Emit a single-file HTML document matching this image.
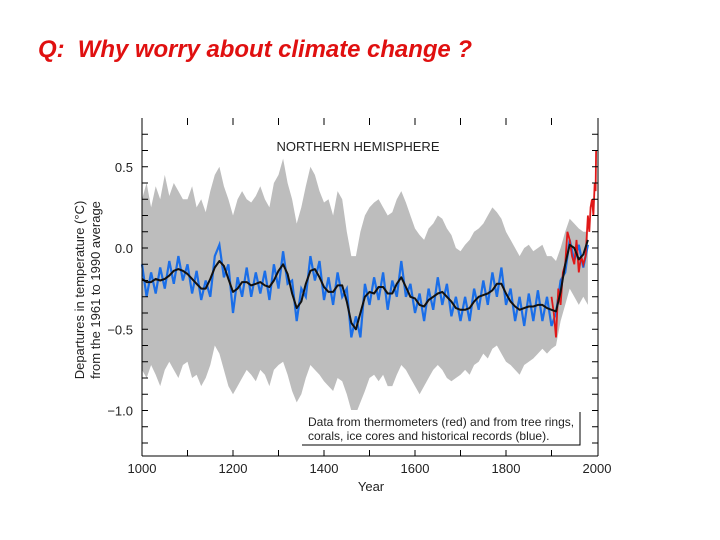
<!DOCTYPE html>
<html><head><meta charset="utf-8"><style>
html,body{margin:0;padding:0;background:#fff;}
svg{display:block;font-family:"Liberation Sans",Arial,sans-serif;}
</style></head><body>
<svg id="chart" width="720" height="540" viewBox="0 0 720 540">
<text x="38" y="57" font-size="24" font-style="italic" font-weight="bold" fill="#e01010" xml:space="preserve" style="white-space:pre" textLength="434" lengthAdjust="spacing">Q:  Why worry about climate change ?</text>
<g id="plot"></g>
</svg>
<script>
const startYear = 1000, stepYears = 10;
const smoothSeries = [-0.19,-0.21,-0.21,-0.19,-0.20,-0.19,-0.17,-0.14,-0.13,-0.14,
-0.16,-0.19,-0.22,-0.25,-0.25,-0.19,-0.12,-0.08,-0.11,-0.19,
-0.27,-0.25,-0.21,-0.21,-0.23,-0.22,-0.21,-0.23,-0.24,-0.20,
-0.14,-0.10,-0.16,-0.28,-0.37,-0.33,-0.22,-0.14,-0.13,-0.18,
-0.24,-0.27,-0.27,-0.23,-0.23,-0.33,-0.46,-0.50,-0.40,-0.30,
-0.27,-0.28,-0.24,-0.24,-0.28,-0.28,-0.22,-0.18,-0.24,-0.30,
-0.31,-0.35,-0.36,-0.32,-0.30,-0.28,-0.27,-0.30,-0.33,-0.37,
-0.38,-0.38,-0.37,-0.33,-0.30,-0.29,-0.28,-0.26,-0.22,-0.22,
-0.28,-0.33,-0.36,-0.38,-0.37,-0.36,-0.36,-0.35,-0.35,-0.37,
-0.38,-0.39,-0.27,-0.10,0.02,0.00,-0.07,-0.04,0.05];
const proxySeries = [-0.10,-0.30,-0.15,-0.28,-0.12,-0.25,-0.08,-0.22,-0.05,-0.20,
-0.10,-0.28,-0.14,-0.32,-0.20,-0.30,-0.05,0.02,-0.18,-0.10,
-0.40,-0.18,-0.30,-0.12,-0.30,-0.15,-0.28,-0.14,-0.32,-0.10,
-0.25,-0.02,-0.22,-0.20,-0.45,-0.25,-0.30,-0.05,-0.20,-0.08,
-0.32,-0.18,-0.35,-0.15,-0.30,-0.25,-0.55,-0.42,-0.55,-0.22,
-0.35,-0.18,-0.32,-0.15,-0.38,-0.20,-0.30,-0.08,-0.30,-0.22,
-0.40,-0.28,-0.45,-0.25,-0.38,-0.18,-0.35,-0.22,-0.42,-0.30,
-0.45,-0.30,-0.45,-0.25,-0.38,-0.20,-0.35,-0.15,-0.30,-0.12,
-0.35,-0.25,-0.45,-0.30,-0.48,-0.28,-0.45,-0.26,-0.45,-0.30,
-0.48,-0.40,-0.20,-0.15,0.05,-0.08,0.02,-0.12,0.02];
const bandUpper = [0.30,0.40,0.25,0.38,0.30,0.45,0.32,0.40,0.35,0.30,
0.30,0.38,0.25,0.30,0.22,0.35,0.45,0.50,0.38,0.30,
0.20,0.30,0.35,0.30,0.28,0.32,0.38,0.30,0.25,0.40,
0.45,0.55,0.40,0.30,0.15,0.25,0.38,0.50,0.45,0.35,
0.28,0.30,0.20,0.35,0.30,0.10,-0.05,-0.05,0.10,0.20,
0.25,0.28,0.30,0.25,0.20,0.22,0.30,0.35,0.28,0.20,
0.12,0.08,0.05,0.12,0.15,0.20,0.18,0.12,0.08,0.00,
-0.02,0.02,0.05,0.10,0.12,0.15,0.20,0.25,0.22,0.18,
0.10,0.05,0.00,-0.05,0.00,0.02,-0.02,0.00,0.02,-0.05,
-0.05,-0.08,0.00,0.10,0.18,0.15,0.12,0.10,0.10];
const bandLower = [-0.75,-0.80,-0.72,-0.78,-0.85,-0.75,-0.70,-0.75,-0.80,-0.72,
-0.70,-0.80,-0.78,-0.85,-0.80,-0.72,-0.60,-0.65,-0.75,-0.85,
-0.90,-0.85,-0.80,-0.75,-0.78,-0.82,-0.75,-0.78,-0.85,-0.75,
-0.72,-0.70,-0.78,-0.88,-0.95,-0.90,-0.80,-0.72,-0.75,-0.78,
-0.82,-0.85,-0.88,-0.80,-0.82,-0.90,-1.00,-1.02,-0.95,-0.88,
-0.80,-0.78,-0.82,-0.78,-0.85,-0.85,-0.78,-0.72,-0.75,-0.80,
-0.85,-0.90,-0.85,-0.80,-0.75,-0.72,-0.75,-0.80,-0.82,-0.80,
-0.78,-0.75,-0.78,-0.72,-0.70,-0.65,-0.68,-0.62,-0.60,-0.65,
-0.70,-0.72,-0.75,-0.78,-0.72,-0.70,-0.68,-0.65,-0.62,-0.65,
-0.62,-0.60,-0.45,-0.35,-0.25,-0.30,-0.35,-0.30,-0.35];
const thermoYears = [1900,1905,1910,1915,1920,1925,1930,1935,1940,1945,1950,1955,1960,1965,1970,1975,1980,1983,1986,1989,1992,1995,1997,1998];
const thermoValues = [-0.30,-0.40,-0.55,-0.25,-0.35,-0.15,-0.10,0.10,0.05,-0.05,-0.10,0.05,-0.15,-0.05,-0.10,-0.05,0.20,0.10,0.25,0.30,0.20,0.40,0.35,0.60];
const xTickLabels = [1000,1200,1400,1600,1800,2000];
const yTickLabels = [0.5,0.0,-0.5,-1.0];

const NS='http://www.w3.org/2000/svg';
const plot=document.getElementById('plot');
const L=142,R=597,T=118,B=456;
function xs(yr){return L+(yr-1000)/1000*(R-L);}
function ys(v){return 248-v*162.5;}
function mk(tag,attrs){const e=document.createElementNS(NS,tag);for(const k in attrs)e.setAttribute(k,attrs[k]);plot.appendChild(e);return e;}
function yearAt(i){return startYear+i*stepYears;}

let pts=[];
bandUpper.forEach((v,i)=>pts.push(xs(yearAt(i)).toFixed(1)+','+ys(v).toFixed(1)));
for(let i=bandLower.length-1;i>=0;i--)pts.push(xs(yearAt(i)).toFixed(1)+','+ys(bandLower[i]).toFixed(1));
let e=mk('polygon',{points:pts.join(' '),fill:'#bdbdbd'});



e=mk('polyline',{points:proxySeries.map((v,i)=>xs(yearAt(i)).toFixed(1)+','+ys(v).toFixed(1)).join(' '),fill:'none',stroke:'#1a6ee8','stroke-width':2.2});



e=mk('polyline',{points:thermoValues.map((v,i)=>xs(thermoYears[i]).toFixed(1)+','+ys(v).toFixed(1)).join(' '),fill:'none',stroke:'#e01818','stroke-width':1.8});



e=mk('polyline',{points:smoothSeries.map((v,i)=>xs(yearAt(i)).toFixed(1)+','+ys(v).toFixed(1)).join(' '),fill:'none',stroke:'#111','stroke-width':2,'stroke-linejoin':'round'});



e=mk('line',{x1:L,y1:T,x2:L,y2:B,stroke:'#000','stroke-width':1});


e=mk('line',{x1:L,y1:B,x2:R+1,y2:B,stroke:'#000','stroke-width':1});


e=mk('line',{x1:R+1,y1:T,x2:R+1,y2:B,stroke:'#000','stroke-width':1});



for(let yr=1100;yr<2000;yr+=100){
  e=mk('line',{x1:xs(yr),y1:T,x2:xs(yr),y2:T+7,stroke:'#000'});
  
  
  e=mk('line',{x1:xs(yr),y1:B,x2:xs(yr),y2:B-6,stroke:'#000'});
  
  
}
for(let k=-12;k<=7;k++){
  const y=ys(k/10);
  e=mk('line',{x1:L,y1:y,x2:L+6,y2:y,stroke:'#000'});
  
  
  e=mk('line',{x1:R+1,y1:y,x2:R-5,y2:y,stroke:'#000'});
  
  
}
xTickLabels.forEach(v=>{
  const t=mk('text',{x:xs(v),y:473,'font-size':13,'text-anchor':'middle',fill:'#222'});
  t.textContent=v;
  
  
});
yTickLabels.forEach(v=>{
  const t=mk('text',{x:133,y:ys(v)+5,'font-size':13,'text-anchor':'end',fill:'#222'});
  t.textContent=(v<0?'\u2212':'')+Math.abs(v).toFixed(1);
  
  
});
let t=mk('text',{x:371,y:491,'font-size':13,'text-anchor':'middle',fill:'#222'});t.textContent='Year';


t=mk('text',{x:0,y:0,'font-size':13,'text-anchor':'middle',fill:'#222',transform:'translate(84,290) rotate(-90)'});t.textContent='Departures in temperature (\u00b0C)';


t=mk('text',{x:0,y:0,'font-size':13,'text-anchor':'middle',fill:'#222',transform:'translate(100,290) rotate(-90)'});t.textContent='from the 1961 to 1990 average';


t=mk('text',{x:358,y:151,'font-size':13,'text-anchor':'middle',fill:'#222'});t.textContent='NORTHERN HEMISPHERE';


e=mk('rect',{x:302,y:410,width:278,height:35,fill:'#fff'});


e=mk('polyline',{points:'302,445 580,445 580,412',fill:'none',stroke:'#000'});


t=mk('text',{x:308,y:426,'font-size':12,fill:'#222'});t.textContent='Data from thermometers (red) and from tree rings,';


t=mk('text',{x:308,y:440,'font-size':12,fill:'#222'});t.textContent='corals, ice cores and historical records (blue).';


</script>
</body></html>
